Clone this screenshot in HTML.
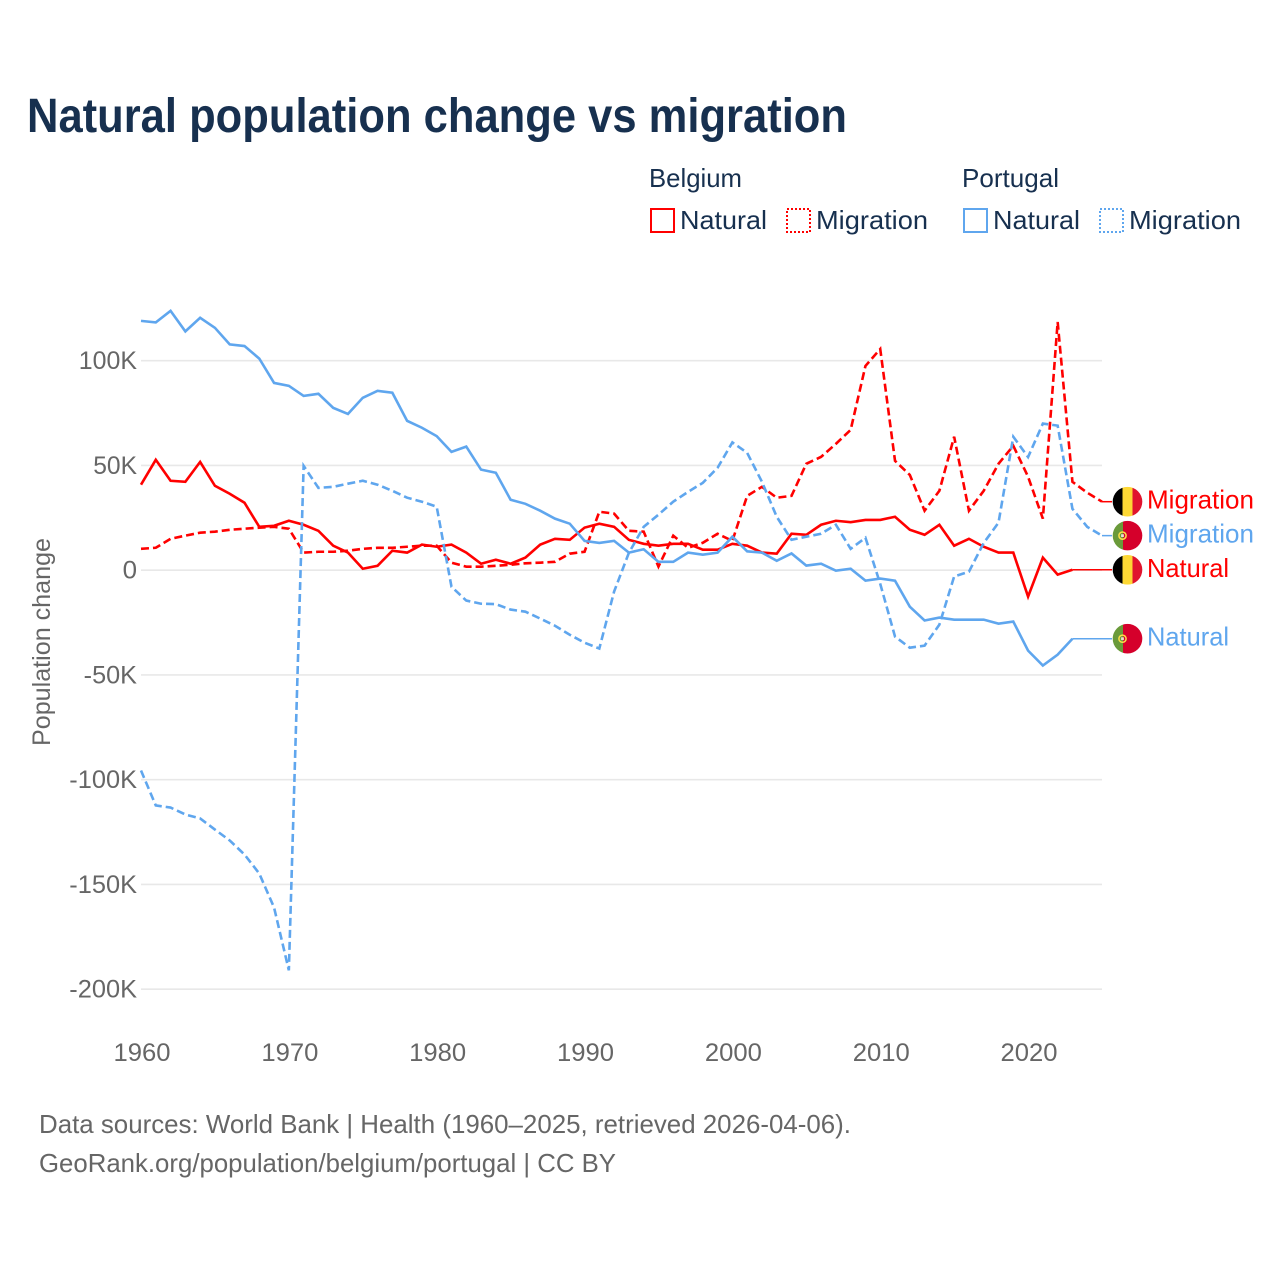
<!DOCTYPE html>
<html lang="en">
<head>
<meta charset="utf-8">
<title>Natural population change vs migration</title>
<style>
html,body{margin:0;padding:0;background:#fff;width:1280px;height:1280px;overflow:hidden}
svg{display:block}
text{font-family:"Liberation Sans",sans-serif}
</style>
</head>
<body>
<svg id="chart" width="1280" height="1280" viewBox="0 0 1280 1280" xmlns="http://www.w3.org/2000/svg">
  <defs>
    <clipPath id="flag-clip-a"><circle cx="15" cy="15" r="14.8"/></clipPath>
  </defs>
  <rect width="1280" height="1280" fill="#fff"/>
  <text x="27" y="132" font-size="48" font-weight="700" fill="#17304f" textLength="820" lengthAdjust="spacingAndGlyphs">Natural population change vs migration</text>

  <g font-size="26" fill="#17304f">
    <text x="649" y="187" textLength="93" lengthAdjust="spacingAndGlyphs">Belgium</text>
    <text x="962" y="187" textLength="97" lengthAdjust="spacingAndGlyphs">Portugal</text>
    <g>
      <rect x="651" y="209" width="23" height="23" fill="none" stroke="#ff0000" stroke-width="2"/>
      <text x="680" y="229" textLength="87" lengthAdjust="spacingAndGlyphs">Natural</text>
    </g>
    <g>
      <rect x="787" y="209" width="23" height="23" fill="none" stroke="#ff0000" stroke-width="2" stroke-dasharray="2 2"/>
      <text x="816" y="229" textLength="112" lengthAdjust="spacingAndGlyphs">Migration</text>
    </g>
    <g>
      <rect x="964" y="209" width="23" height="23" fill="none" stroke="#5fa6ee" stroke-width="2"/>
      <text x="993" y="229" textLength="87" lengthAdjust="spacingAndGlyphs">Natural</text>
    </g>
    <g>
      <rect x="1100" y="209" width="23" height="23" fill="none" stroke="#5fa6ee" stroke-width="2" stroke-dasharray="2 2"/>
      <text x="1129" y="229" textLength="112" lengthAdjust="spacingAndGlyphs">Migration</text>
    </g>
  </g>

  <g id="grid"></g>
  <g id="y-ticks"></g>
  <g id="x-ticks"></g>
  <text transform="translate(50,746) rotate(-90)" font-size="25" fill="#666" textLength="208" lengthAdjust="spacingAndGlyphs">Population change</text>
  <g id="series"></g>
  <g id="ends"></g>

  <g font-size="26" fill="#666">
    <text x="39" y="1133" textLength="812" lengthAdjust="spacingAndGlyphs">Data sources: World Bank | Health (1960–2025, retrieved 2026-04-06).</text>
    <text x="39" y="1172" textLength="577" lengthAdjust="spacingAndGlyphs">GeoRank.org/population/belgium/portugal | CC BY</text>
  </g>
</svg>
<script>
const firstYear = 1960;
const lastYear = 2025;
const xTickYears = [1960, 1970, 1980, 1990, 2000, 2010, 2020];
const yTickValues = [100, 50, 0, -50, -100, -150, -200];
const yTickLabels = ["100K", "50K", "0", "-50K", "-100K", "-150K", "-200K"];

// Values in thousands, one per year from 1960
const belgiumNatural = [40.8,52.7,42.7,42.2,51.7,40.3,36.5,32.2,20.7,21.2,23.6,21.7,18.8,11.7,8.4,0.7,2.1,9.3,8.4,12.2,11.2,12.2,8.4,3.1,5,3.1,6,12.2,15,14.5,20.3,22.2,20.7,14.5,12.6,11.7,12.6,12.6,9.8,9.8,12.6,11.7,8.4,7.9,17.4,16.9,21.7,23.6,22.9,24,24,25.5,19.3,16.9,21.7,11.7,15,11.2,8.4,8.4,-12.6,6,-2.1,0.2];
const belgiumMigration = [10.2,10.7,15,16.5,17.9,18.4,19.3,19.8,20.3,20.7,19.8,8.4,8.8,8.8,9.3,10.2,10.7,10.7,11.2,11.7,11.7,3.6,1.7,1.7,2.1,2.6,3.3,3.6,4,7.9,8.8,27.9,27,18.8,18.4,1.7,16.5,10.7,13.1,17.4,14,35.5,39.8,34.6,35.5,50.8,54.1,60.3,67,97.5,105.6,52.2,45.5,28.4,37.9,63.7,28.4,37.9,50.8,59.4,44.6,24.6,118.5,42.2,37,32.7];
const portugalNatural = [119,118.3,123.8,114,120.5,115.7,107.8,107,101,89.4,88,83.2,84.2,77.5,74.6,82.3,85.6,84.7,71.3,68,64,56.5,59,48,46.5,33.6,31.7,28.4,24.6,22.2,14,13,14,8.4,10,4,4,8.4,7.4,8.4,16,9,8.4,4.5,8,2.2,3.1,-0.2,0.7,-5,-4,-5,-17.4,-24,-22.6,-23.6,-23.6,-23.6,-25.5,-24.5,-38.4,-45.5,-40.3,-32.7];
const portugalMigration = [-95.6,-112.3,-113.3,-116.6,-118.5,-123.8,-129,-135.7,-144.8,-161,-191,49.8,39.3,39.8,41.3,42.7,40.8,37.9,34.6,32.7,30.3,-7.9,-14.5,-16,-16.2,-18.8,-19.8,-23.1,-26.5,-30.8,-34.6,-37.4,-10.2,8.3,20.7,26.5,32.7,37.4,41.7,48.9,61,56,42.2,25.5,14.5,16,17.4,21.7,10.2,15.5,-6.5,-31.7,-37,-36,-26,-3,-0.7,13,22.7,63.7,54,70,69,29.3,20.7,16.5];

const NS = "http://www.w3.org/2000/svg";
const RED = "#ff0000";
const BLUE = "#5fa6ee";
const plotLeft = 141, plotRight = 1102, zeroY = 570.2, pxPerK = 2.095, connectorEnd = 1112;

function xScale(year) {
  return plotLeft + (year - firstYear) * (plotRight - plotLeft) / (lastYear - firstYear);
}
function yScale(value) {
  return zeroY - value * pxPerK;
}
function make(tag, parent) {
  const el = document.createElementNS(NS, tag);
  parent.appendChild(el);
  return el;
}
function labelWidth(s) {
  let w = 0;
  for (const c of s) w += c === "K" ? 15 : c === "-" ? 9.5 : 14.4;
  return w;
}

const gridGroup = document.getElementById("grid");
const yTickGroup = document.getElementById("y-ticks");
yTickValues.forEach(function (v, i) {
  const line = make("line", gridGroup);
  
  
  line.setAttribute("x1", plotLeft);
  line.setAttribute("x2", plotRight);
  line.setAttribute("y1", yScale(v));
  line.setAttribute("y2", yScale(v));
  line.setAttribute("stroke", "#e8e8e8");
  line.setAttribute("stroke-width", "1.6");
  const t = make("text", yTickGroup);
  
  
  t.textContent = yTickLabels[i];
  t.setAttribute("x", 137 - labelWidth(yTickLabels[i]));
  t.setAttribute("y", yScale(v) + 8.5);
  t.setAttribute("font-size", "25");
  t.setAttribute("fill", "#666");
  t.setAttribute("textLength", labelWidth(yTickLabels[i]));
  t.setAttribute("lengthAdjust", "spacingAndGlyphs");
});

const xTickGroup = document.getElementById("x-ticks");
xTickYears.forEach(function (year) {
  const t = make("text", xTickGroup);
  
  
  t.textContent = String(year);
  t.setAttribute("x", xScale(year) - 27.5);
  t.setAttribute("y", 1061);
  t.setAttribute("font-size", "25");
  t.setAttribute("fill", "#666");
  t.setAttribute("textLength", "57");
  t.setAttribute("lengthAdjust", "spacingAndGlyphs");
});

function drawSeries(values, color, dashed, name) {
  const group = document.getElementById("series");
  const path = make("polyline", group);
  
  
  path.setAttribute("points", values.map(function (v, i) {
    return xScale(firstYear + i).toFixed(2) + "," + yScale(v).toFixed(2);
  }).join(" "));
  path.setAttribute("fill", "none");
  path.setAttribute("stroke", color);
  path.setAttribute("stroke-width", "2.6");
  path.setAttribute("stroke-linejoin", "miter");
  if (dashed) path.setAttribute("stroke-dasharray", "8 4");
  const lastV = values[values.length - 1];
  const conn = make("line", group);
  
  
  conn.setAttribute("x1", xScale(firstYear + values.length - 1));
  conn.setAttribute("x2", connectorEnd);
  conn.setAttribute("y1", yScale(lastV));
  conn.setAttribute("y2", yScale(lastV));
  conn.setAttribute("stroke", color);
  conn.setAttribute("stroke-width", "1.5");
}
drawSeries(belgiumNatural, RED, false, "line-belgium-natural");
drawSeries(belgiumMigration, RED, true, "line-belgium-migration");
drawSeries(portugalNatural, BLUE, false, "line-portugal-natural");
drawSeries(portugalMigration, BLUE, true, "line-portugal-migration");

function drawFlag(parent, country, yCenter) {
  const g = make("g", parent);
  
  
  g.setAttribute("transform", "translate(1112.5," + (yCenter - 15) + ")");
  const inner = make("g", g);
  inner.setAttribute("clip-path", "url(#flag-clip-a)");
  const bands = country === "belgium"
    ? [[0, 10, "#000000"], [10, 10, "#fdd835"], [20, 10, "#e0142e"]]
    : [[0, 10.5, "#6a9a3a"], [10.5, 19.5, "#d5002b"]];
  bands.forEach(function (b) {
    const r = make("rect", inner);
    r.setAttribute("x", b[0]);
    r.setAttribute("y", 0);
    r.setAttribute("width", b[1]);
    r.setAttribute("height", 30);
    r.setAttribute("fill", b[2]);
  });
  if (country === "portugal") {
    const ring = make("circle", inner);
    ring.setAttribute("cx", 10);
    ring.setAttribute("cy", 15);
    ring.setAttribute("r", 3.6);
    ring.setAttribute("fill", "none");
    ring.setAttribute("stroke", "#fde047");
    ring.setAttribute("stroke-width", "1.5");
    const shield = make("rect", inner);
    shield.setAttribute("x", 8.6);
    shield.setAttribute("y", 13.6);
    shield.setAttribute("width", 2.8);
    shield.setAttribute("height", 2.8);
    shield.setAttribute("fill", "#e8e0d0");
  }
}

function drawEnd(values, country, kind, color) {
  const parent = document.getElementById("ends");
  const yEnd = yScale(values[values.length - 1]);
  drawFlag(parent, country, yEnd);
  const t = make("text", parent);
  
  
  t.textContent = kind;
  t.setAttribute("x", 1147);
  t.setAttribute("y", yEnd + 7);
  t.setAttribute("font-size", "26");
  t.setAttribute("fill", color);
  t.setAttribute("textLength", kind === "Migration" ? 107 : 82);
  t.setAttribute("lengthAdjust", "spacingAndGlyphs");
}
drawEnd(belgiumMigration, "belgium", "Migration", RED);
drawEnd(portugalMigration, "portugal", "Migration", BLUE);
drawEnd(belgiumNatural, "belgium", "Natural", RED);
drawEnd(portugalNatural, "portugal", "Natural", BLUE);
</script>
</body>
</html>
